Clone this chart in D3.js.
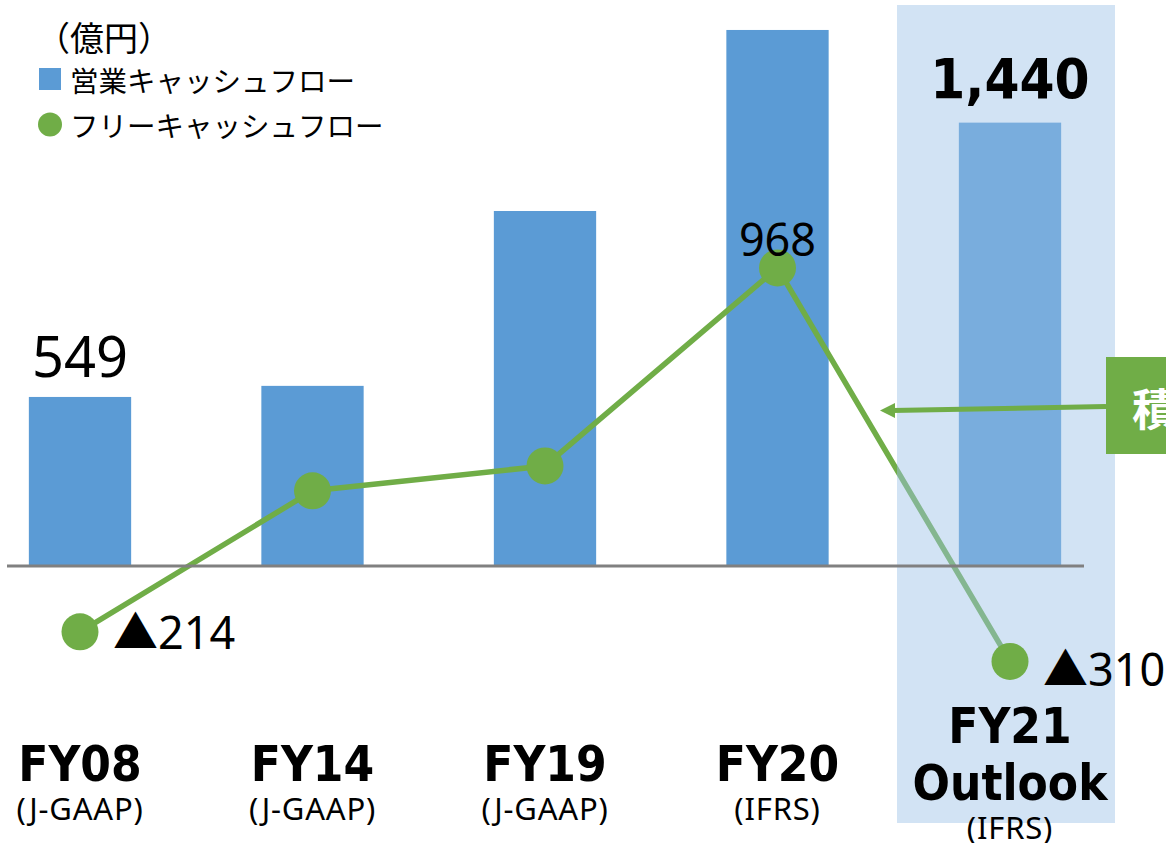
<!DOCTYPE html>
<html>
<head>
<meta charset="utf-8">
<script src="https://cdn.jsdelivr.net/npm/d3@7"></script>
<style>
    html, body { margin: 0; padding: 0; background: #fff; }
    svg { display: block; }
</style>
</head>
<body>
<div id="chart"></div>
<script>
var categories = ["FY08", "FY14", "FY19", "FY20", "FY21"];
var subLabels = ["(J-GAAP)", "(J-GAAP)", "(J-GAAP)", "(IFRS)", "(IFRS)"];
var operatingCF = [549, 585, 1153, 1741, 1440];
var freeCF = [-214, 244, 325, 968, -310];
var opLabels = ["549", null, null, null, "1,440"];
var fcfLabels = ["▲214", null, null, "968", "▲310"];
var legendNames = ["営業キャッシュフロー", "フリーキャッシュフロー"];
var unitLabel = "（億円）";

var width = 1166, height = 843;
var colors = {bar: "#5b9bd5", line: "#70ad47", band: "#9dc3e6", axis: "#808080"};
var latin = "'Noto Sans', 'Noto Sans CJK JP', sans-serif";
var jp = "'Noto Sans CJK JP', sans-serif";
var boldLatin = "'DejaVu Sans', sans-serif";

var svg = d3.select("#chart").append("svg").attr("width", width).attr("height", height);

var x = d3.scaleBand().domain(categories).range([-36.25, 1126.25]).paddingInner(0.56).paddingOuter(0.28);
var y = d3.scaleLinear().domain([-600, 1800]).range([750.7, 11.8]);
var cx = function(i){ return x(categories[i]) + x.bandwidth()/2; };

// bars
svg.append("g").selectAll("rect").data(operatingCF).enter().append("rect")
    .attr("x", function(d, i){ return x(categories[i]); })
    .attr("y", function(d){ return y(d); })
    .attr("width", x.bandwidth())
    .attr("height", function(d){ return y(0) - y(d); })
    .attr("fill", colors.bar);

// free cash flow line (drawn below the outlook band)
var line = d3.line().x(function(d, i){ return cx(i); }).y(function(d){ return y(d); });
svg.append("path").datum(freeCF)
    .attr("d", line)
    .attr("fill", "none")
    .attr("stroke", colors.line)
    .attr("stroke-width", 5.5)
    .attr("stroke-linejoin", "round");

// outlook band over last category
var last = categories.length - 1;
svg.append("rect")
    .attr("x", cx(last) - 113)
    .attr("y", 5)
    .attr("width", 218)
    .attr("height", 818)
    .attr("fill", colors.band)
    .attr("fill-opacity", 0.46);

// zero line
svg.append("line")
    .attr("x1", 7).attr("x2", 1084)
    .attr("y1", y(0)).attr("y2", y(0))
    .attr("stroke", colors.axis)
    .attr("stroke-width", 3);

// dots
svg.append("g").selectAll("circle").data(freeCF).enter().append("circle")
    .attr("cx", function(d, i){ return cx(i); })
    .attr("cy", function(d){ return y(d); })
    .attr("r", 18.5)
    .attr("fill", colors.line);

// value labels
svg.append("g").selectAll("text").data(opLabels).enter().filter(function(d){ return d; }).append("text")
    .attr("x", function(d){ return cx(opLabels.indexOf(d)); })
    .attr("y", function(d){ var i = opLabels.indexOf(d); return y(operatingCF[i]) - (i === last ? 24.5 : 20); })
    .attr("text-anchor", "middle")
    .attr("font-family", function(d){ return opLabels.indexOf(d) === last ? boldLatin : latin; })
    .attr("font-weight", function(d){ return opLabels.indexOf(d) === last ? "bold" : "normal"; })
    .attr("font-stretch", "condensed")
    .attr("font-size", 56)
    .attr("fill", "#000")
    .text(function(d){ return d; });

fcfLabels.forEach(function(d, i){
    if (!d) return;
    var t = svg.append("text")
        .attr("font-family", latin)
        .attr("font-size", 45)
        .attr("fill", "#000")
        .text(d);
    if (freeCF[i] < 0){
        t.attr("x", cx(i) + 33).attr("y", y(freeCF[i]) + (i === last ? 7 : 0)).attr("dominant-baseline", "central");
    } else {
        t.attr("x", cx(i)).attr("y", y(freeCF[i]) - 12).attr("text-anchor", "middle");
    }
});

// category labels
var catG = svg.append("g");
categories.forEach(function(c, i){
    var isOutlook = i === last;
    var lines = isOutlook ? [c, "Outlook"] : [c];
    lines.forEach(function(s, j){
        catG.append("text")
            .attr("x", cx(i))
            .attr("y", isOutlook ? 743 + j*57 : 781)
            .attr("text-anchor", "middle")
            .attr("font-family", boldLatin)
            .attr("font-weight", "bold")
            .attr("font-stretch", "condensed")
            .attr("font-size", 49)
            .attr("fill", "#000")
            .text(s);
    });
    catG.append("text")
        .attr("x", cx(i))
        .attr("y", isOutlook ? 839 : 820)
        .attr("text-anchor", "middle")
        .attr("font-family", latin)
        .attr("font-size", 31)
        .attr("letter-spacing", 0.8)
        .attr("fill", "#000")
        .text(subLabels[i]);
});

// legend
var leg = svg.append("g");
leg.append("text").attr("x", 36).attr("y", 36).attr("dominant-baseline", "central")
    .attr("font-family", jp).attr("font-size", 34).text(unitLabel);
leg.append("rect").attr("x", 39).attr("y", 68).attr("width", 22).attr("height", 22).attr("fill", colors.bar);
leg.append("circle").attr("cx", 50).attr("cy", 124.5).attr("r", 12).attr("fill", colors.line);
legendNames.forEach(function(n, i){
    leg.append("text").attr("x", 70).attr("y", 79 + i*45).attr("dominant-baseline", "central")
        .attr("font-family", jp).attr("font-size", 28.5).text(n);
});

// callout box with arrow
var call = svg.append("g");
call.append("line").attr("x1", 1106).attr("y1", 406.5).attr("x2", 892).attr("y2", 410.5)
    .attr("stroke", colors.line).attr("stroke-width", 5);
call.append("path").attr("d", "M880,410.5 L895,403 L895,418 Z").attr("fill", colors.line);
call.append("rect").attr("x", 1106).attr("y", 357).attr("width", 80).attr("height", 97).attr("fill", colors.line);
call.append("text").attr("x", 1132).attr("y", 407).attr("dominant-baseline", "central")
    .attr("font-family", jp).attr("font-weight", "bold").attr("font-size", 44).attr("fill", "#fff").text("積");
</script>
</body>
</html>
